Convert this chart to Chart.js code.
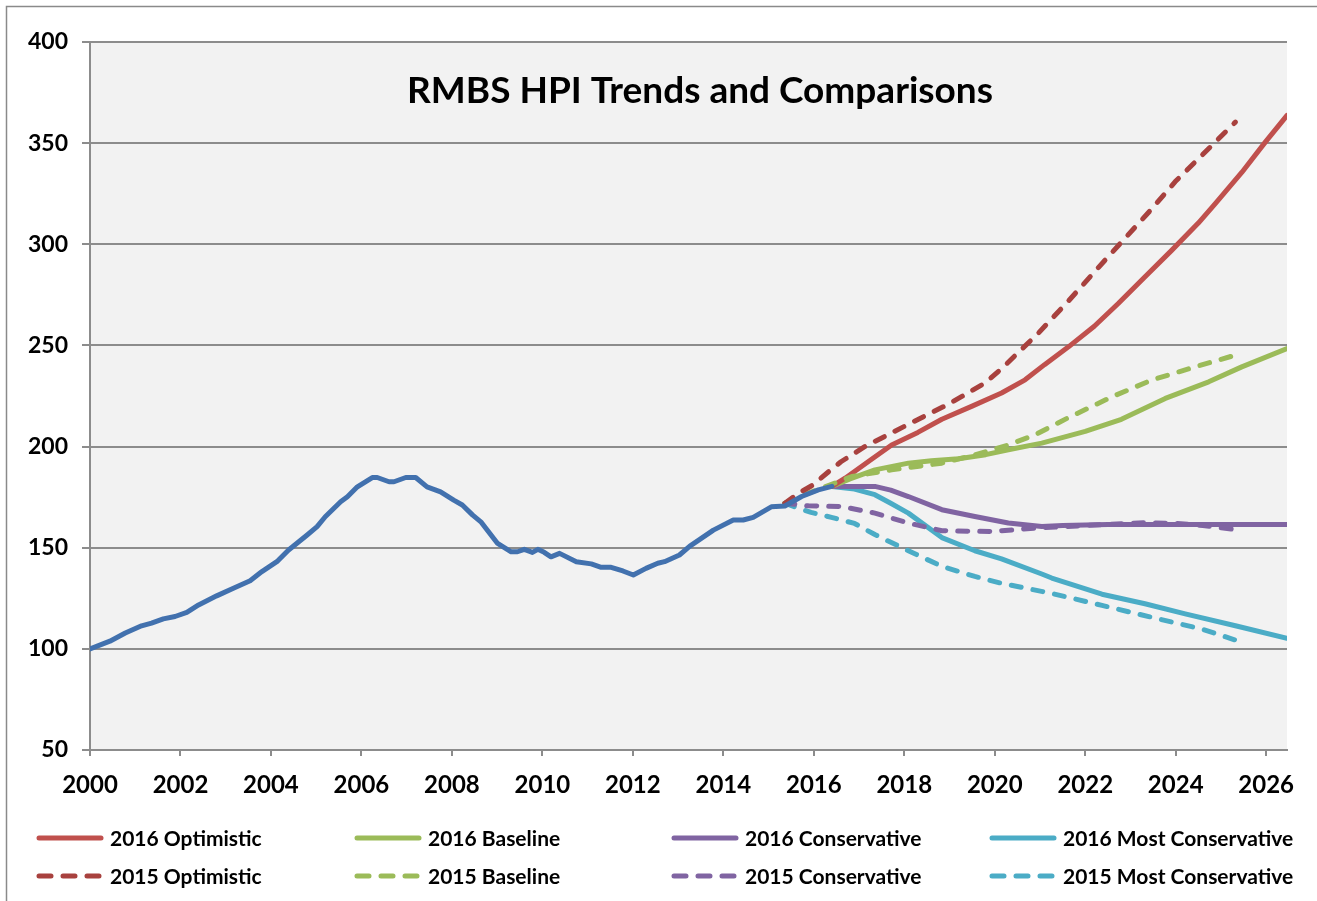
<!DOCTYPE html>
<html>
<head>
<meta charset="utf-8">
<script src="https://cdn.jsdelivr.net/npm/chart.js@4.4.1/dist/chart.umd.min.js"></script>
<style>
  html, body { margin: 0; padding: 0; background: #ffffff; }
  #wrap { width: 1317px; height: 901px; position: relative; }
</style>
</head>
<body>
<div id="wrap"><canvas id="c" width="1317" height="901"></canvas></div>
<script>
// ---------- DATA ----------
const chartTitle = "RMBS HPI Trends and Comparisons";
const xTickLabels = [2000, 2002, 2004, 2006, 2008, 2010, 2012, 2014, 2016, 2018, 2020, 2022, 2024, 2026];
const yTickLabels = [50, 100, 150, 200, 250, 300, 350, 400];

// History (blue)
const histYears = [2000.0,2000.44,2000.78,2001.14,2001.36,2001.62,2001.88,2002.14,2002.4,2002.8,2003.17,2003.54,2003.8,2004.13,2004.39,2004.8,2005.02,2005.2,2005.54,2005.69,2005.91,2006.24,2006.35,2006.61,2006.72,2006.98,2007.2,2007.45,2007.75,2008.04,2008.23,2008.46,2008.64,2008.75,2009.01,2009.31,2009.45,2009.6,2009.78,2009.9,2010.04,2010.19,2010.38,2010.75,2011.08,2011.3,2011.52,2011.78,2012.01,2012.29,2012.55,2012.7,2013.03,2013.26,2013.48,2013.78,2014.22,2014.44,2014.66,2015.06,2015.36,2015.73,2016.1,2016.4];
const histValues = [100,103.8,107.8,111.4,112.7,114.8,116,118,121.7,126.2,130,133.7,138.2,143.1,148.9,156.3,160.4,165.3,172.7,175.2,180.1,184.7,184.7,182.6,182.6,184.7,184.7,180.1,177.6,173.5,171.1,166.1,162.8,159.6,152.1,148,148,149.2,147.7,149.2,147.7,145.5,147.2,143.1,142,140.3,140.3,138.5,136.5,139.8,142.3,143.1,146.4,150.8,154.1,158.7,163.7,163.7,165,170.2,170.6,175.3,178.6,180.3];

// 2016 scenarios (solid)
const opt16Years = [2016.4,2016.7,2017.2,2017.72,2018.3,2018.83,2019.5,2020.15,2020.67,2021.1,2021.63,2022.2,2022.73,2023.3,2023.91,2024.5,2024.87,2025.46,2025.98,2026.46];
const opt16Values = [180.3,184.5,192.5,200.8,207,213.5,220,226.5,233,240.5,249.3,259.5,270.7,283.5,297,310.5,320,335.5,350.5,363.7];

const base16Years = [2016.4,2016.8,2017.35,2018.09,2018.6,2019.2,2019.8,2020.3,2021.04,2022.0,2022.8,2023.77,2024.73,2025.46,2026.46];
const base16Values = [180.3,184,188.5,191.8,193,194,196,198.4,201.7,207.5,213.5,223.8,232,239.4,248.5];

const cons16Years = [2016.4,2017.35,2017.7,2018.09,2018.83,2019.56,2020.3,2021.04,2021.5,2022.5,2023.5,2024.5,2026.46];
const cons16Values = [180.3,180.3,178.5,175.3,168.8,165.4,162.2,160.5,161,161.5,161.5,161.5,161.5];

const most16Years = [2016.4,2016.9,2017.35,2017.7,2018.09,2018.83,2019.56,2020.15,2021.04,2021.26,2022.37,2023.32,2024.21,2025.32,2026.46];
const most16Values = [180.3,179,176.2,172,167.1,155,148.5,144.5,137,135,127,122.3,117.3,111.4,105.2];

// 2015 scenarios (dashed)
const opt15Years = [2015.36,2015.67,2015.98,2016.35,2016.6,2017.13,2018.09,2018.98,2019.79,2020.15,2020.96,2021.63,2022.29,2022.88,2023.47,2023.99,2024.58,2025.32];
const opt15Values = [172,177,181,188,192.5,200,211,221,231.5,238.5,256,272,288.5,303,317.5,331,344,360.4];

const base15Years = [2015.36,2015.88,2016.84,2017.72,2018.83,2019.56,2020.3,2020.89,2021.6,2022.59,2023.47,2024.43,2025.32];
const base15Values = [172,177,185.2,188.5,191.8,195.9,200.8,205.8,214,224.6,232.9,239.4,245.2];

const cons15Years = [2015.36,2015.88,2016.61,2017.35,2018.09,2018.83,2019.93,2020.89,2021.6,2022.5,2023.3,2024.0,2024.6,2025.3];
const cons15Values = [172,170.7,170.4,167.1,162.2,158.4,158,159.7,160.5,161.5,162.3,162,161,159];

const most15Years = [2015.36,2015.6,2015.94,2016.39,2016.9,2017.35,2018.09,2018.83,2019.56,2020.15,2021.26,2022.37,2023.47,2024.58,2025.3];
const most15Values = [172,170,167.5,165,162,156.5,148.5,140.8,135.8,132.4,127.4,121.5,115.6,109.8,104.5];

// ---------- BUILD ----------
function pts(xs, ys) { return xs.map((x, i) => ({ x: x, y: ys[i] })); }
const DASH = [10, 12];
function ds(label, xs, ys, color, dashed) {
  return {
    label: label,
    data: pts(xs, ys),
    borderColor: color,
    backgroundColor: color,
    borderWidth: 5,
    borderDash: dashed ? DASH : [],
    borderCapStyle: 'round',
    borderJoinStyle: 'round',
    pointRadius: 0,
    pointHoverRadius: 0,
    tension: 0,
    fill: false,
    dashed: dashed
  };
}

const RED = '#C0504D', RED_D = '#A8413E', GREEN = '#9BBB59', PURPLE = '#8064A2', CYAN = '#4BACC6', BLUE = '#4271AE';

const datasets = [
  ds('History', histYears, histValues, BLUE, false),
  ds('2015 Optimistic', opt15Years, opt15Values, RED_D, true),
  ds('2015 Baseline', base15Years, base15Values, GREEN, true),
  ds('2015 Conservative', cons15Years, cons15Values, PURPLE, true),
  ds('2015 Most Conservative', most15Years, most15Values, CYAN, true),
  ds('2016 Optimistic', opt16Years, opt16Values, RED, false),
  ds('2016 Baseline', base16Years, base16Values, GREEN, false),
  ds('2016 Conservative', cons16Years, cons16Values, PURPLE, false),
  ds('2016 Most Conservative', most16Years, most16Values, CYAN, false)
];

const legendOrder = [
  ['2016 Optimistic', '2016 Baseline', '2016 Conservative', '2016 Most Conservative'],
  ['2015 Optimistic', '2015 Baseline', '2015 Conservative', '2015 Most Conservative']
];

const FONT = "Lato, 'Liberation Sans', sans-serif";
const GRID = '#8C8C8C';

const decor = {
  id: 'decor',
  beforeDraw(chart) {
    const ctx = chart.ctx, a = chart.chartArea;
    ctx.save();
    ctx.fillStyle = '#ffffff';
    ctx.fillRect(0, 0, chart.width, chart.height);
    ctx.strokeStyle = '#8A8A8A';
    ctx.lineWidth = 1.5;
    ctx.strokeRect(6.5, 6.5, chart.width + 20, chart.height + 20);
    ctx.fillStyle = '#F2F2F2';
    ctx.fillRect(a.left, a.top, a.right - a.left, a.bottom - a.top);
    ctx.restore();
  },
  afterDraw(chart) {
    const ctx = chart.ctx;
    ctx.save();
    // title
    ctx.fillStyle = '#000000';
    ctx.font = "bold 37px " + FONT;
    ctx.textAlign = 'center';
    ctx.textBaseline = 'middle';
    ctx.fillText(chartTitle, 700, 91);
    // legend
    const colX = [37, 355, 672, 990];
    const rowY = [838, 876];
    ctx.font = "bold 21px " + FONT;
    ctx.textAlign = 'left';
    legendOrder.forEach((row, r) => {
      row.forEach((name, c) => {
        const d = chart.data.datasets.find(z => z.label === name);
        const x0 = colX[c], y = rowY[r];
        ctx.beginPath();
        ctx.strokeStyle = d.borderColor;
        ctx.lineWidth = 5;
        ctx.lineCap = 'round';
        ctx.setLineDash(d.dashed ? [12, 12] : []);
        ctx.moveTo(x0 + 2, y);
        ctx.lineTo(x0 + (d.dashed ? 62 : 64), y);
        ctx.stroke();
        ctx.setLineDash([]);
        ctx.fillStyle = '#000000';
        ctx.fillText(name, x0 + 73, y + 1);
      });
    });
    ctx.restore();
  }
};

new Chart(document.getElementById('c'), {
  type: 'line',
  data: { datasets: datasets },
  plugins: [decor],
  options: {
    responsive: false,
    animation: false,
    events: [],
    layout: { padding: { left: 0, top: 42, right: 30, bottom: 0 } },
    plugins: { legend: { display: false }, title: { display: false }, tooltip: { enabled: false } },
    scales: {
      x: {
        type: 'linear',
        min: 2000,
        max: 2026.46,
        afterFit(s) { s.height = 151; },
        afterBuildTicks(s) { s.ticks = xTickLabels.map(v => ({ value: v })); },
        ticks: { stepSize: 2, includeBounds: false, color: '#000', font: { family: FONT, size: 24, weight: 'bold' }, padding: 15, maxRotation: 0, autoSkip: false, callback: v => String(v) },
        grid: { display: true, drawOnChartArea: false, drawTicks: true, tickLength: 6, color: GRID, lineWidth: 2 },
        border: { display: true, color: GRID, width: 2 }
      },
      y: {
        type: 'linear',
        min: 50,
        max: 400,
        afterFit(s) { s.width = 90; },
        afterBuildTicks(s) { s.ticks = yTickLabels.map(v => ({ value: v })); },
        ticks: { stepSize: 50, color: '#000', font: { family: FONT, size: 23, weight: 'bold' }, padding: 14, callback: v => String(v) },
        grid: { display: true, drawTicks: true, tickLength: 8, color: GRID, lineWidth: 2 },
        border: { display: true, color: GRID, width: 2 }
      }
    }
  }
});
</script>
</body>
</html>
